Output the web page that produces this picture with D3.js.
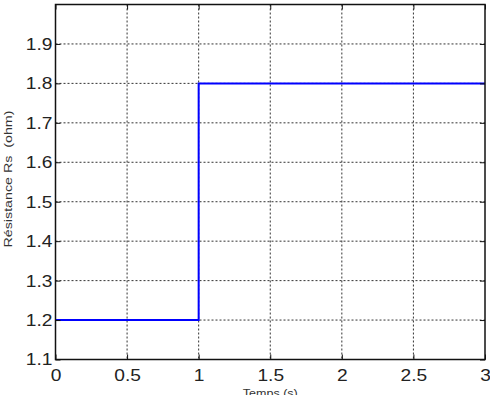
<!DOCTYPE html>
<html>
<head>
<meta charset="utf-8">
<script src="https://cdn.jsdelivr.net/npm/d3@7"></script>
<style>
  body { margin: 0; background: #fff; }
  svg { display: block; }
  .axis text { font-family: "Liberation Sans", Arial, sans-serif; font-size: 17px; fill: #222; }
  .grid line { stroke: #333; stroke-dasharray: 2,2; }
</style>
</head>
<body>
<div id="chart"></div>
<script>
// step signal: resistance Rs vs time
var times = [0, 1, 3];
var resistance = [1.2, 1.8, 1.8];

var xTicks = [0, 0.5, 1, 1.5, 2, 2.5, 3];
var xTickLabels = ["0", "0.5", "1", "1.5", "2", "2.5", "3"];
var yTicks = [1.1, 1.2, 1.3, 1.4, 1.5, 1.6, 1.7, 1.8, 1.9];

var W = 490, H = 395;
// plot box edges (window.top is reserved, so keep these in an object)
var box = { left: 55.5, right: 485, top: 4.5, bottom: 359.5 };

var svg = d3.select("#chart").append("svg")
  .attr("width", W)
  .attr("height", H);

var x = d3.scaleLinear().domain([0, 3]).range([box.left, box.right]);
var y = d3.scaleLinear().domain([1.1, 2.0]).range([box.bottom, box.top]);

// grid
var grid = svg.append("g").attr("class", "grid");
grid.selectAll(".vx")
  .data(xTicks.slice(1, -1))
  .enter().append("line")
  .attr("x1", function(d){ return x(d); })
  .attr("x2", function(d){ return x(d); })
  .attr("y1", box.top)
  .attr("y2", box.bottom);
grid.selectAll(".hy")
  .data(yTicks.slice(1))
  .enter().append("line")
  .attr("x1", box.left)
  .attr("x2", box.right)
  .attr("y1", function(d){ return y(d); })
  .attr("y2", function(d){ return y(d); });

// the signal
var data = times.map(function(t, i){ return [t, resistance[i]]; });
var line = d3.line()
  .x(function(d){ return x(d[0]); })
  .y(function(d){ return y(d[1]); })
  .curve(d3.curveStepAfter);

svg.append("path")
  .datum(data)
  .attr("fill", "none")
  .attr("stroke", "#0000ff")
  .attr("stroke-width", 2)
  .attr("d", line);

// axes, ticks pointing inward
var xAxis = d3.axisBottom(x).tickValues(xTicks)
  .tickFormat(function(d, i){ return xTickLabels[i]; })
  .tickSizeInner(-5).tickSizeOuter(0).tickPadding(9);
var yAxis = d3.axisLeft(y).tickValues(yTicks)
  .tickFormat(d3.format(".1f"))
  .tickSizeInner(-5).tickSizeOuter(0).tickPadding(3);

svg.append("g").attr("class", "x axis")
  .attr("transform", "translate(0," + box.bottom + ")")
  .call(xAxis);
svg.append("g").attr("class", "y axis")
  .attr("transform", "translate(" + box.left + ",0)")
  .call(yAxis);
svg.append("g").attr("class", "x2 axis")
  .attr("transform", "translate(0," + box.top + ")")
  .call(d3.axisTop(x).tickValues(xTicks).tickSizeInner(-5).tickSizeOuter(0).tickFormat(""));
svg.append("g").attr("class", "y2 axis")
  .attr("transform", "translate(" + box.right + ",0)")
  .call(d3.axisRight(y).tickValues(yTicks).tickSizeInner(-5).tickSizeOuter(0).tickFormat(""));

svg.selectAll(".axis .domain").remove();
svg.selectAll(".axis line").attr("stroke", "#111");
// the original labels are a bit wider than Arial
svg.selectAll(".x.axis text").attr("transform", "scale(1.13,1)");
svg.selectAll(".y.axis text").attr("transform", "scale(1.13,1)").attr("x", -3 / 1.13);

// frame
svg.append("rect")
  .attr("x", box.left)
  .attr("y", box.top)
  .attr("width", box.right - box.left)
  .attr("height", box.bottom - box.top)
  .attr("fill", "none")
  .attr("stroke", "#111")
  .attr("stroke-width", 1.5);

// labels
svg.append("text")
  .attr("transform", "translate(12," + ((box.top + box.bottom) / 2 - 3) + ") rotate(-90)")
  .attr("text-anchor", "middle")
  .attr("font-family", "Liberation Sans, Arial, sans-serif")
  .attr("font-size", 10.5)
  .attr("fill", "#333")
  .attr("textLength", 137)
  .attr("lengthAdjust", "spacingAndGlyphs")
  .attr("xml:space", "preserve")
  .text("Résistance Rs  (ohm)");

svg.append("text")
  .attr("x", (box.left + box.right) / 2)
  .attr("y", 397)
  .attr("text-anchor", "middle")
  .attr("font-family", "Liberation Sans, Arial, sans-serif")
  .attr("font-size", 11)
  .attr("fill", "#333")
  .attr("textLength", 55)
  .attr("lengthAdjust", "spacingAndGlyphs")
  .text("Temps (s)");
</script>
</body>
</html>
